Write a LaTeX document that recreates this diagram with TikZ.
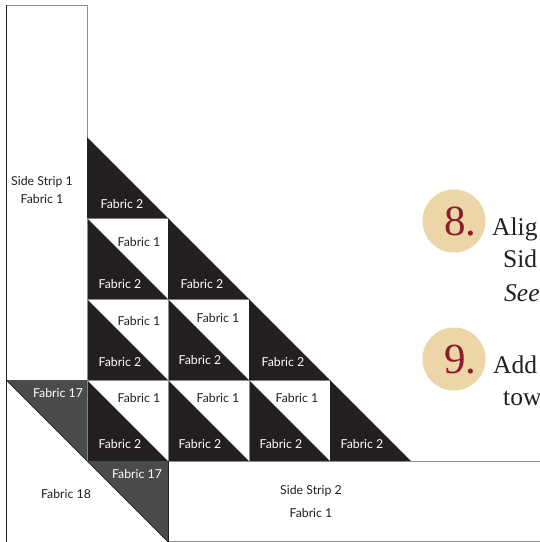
\documentclass[tikz,border=0pt]{standalone}
\usepackage{fontspec}
\newfontfamily\labelfont{Lato}
\newfontfamily\stepfont{Liberation Serif}
\definecolor{qblack}{RGB}{35,31,32}
\definecolor{qgray}{RGB}{74,75,77}
\definecolor{qline}{RGB}{140,140,140}
\definecolor{qbeige}{RGB}{236,214,168}
\definecolor{qred}{RGB}{140,28,40}
\tikzset{
  lbl/.style={font=\labelfont\fontsize{12.3}{14}\selectfont, inner sep=0pt, anchor=center},
  wl/.style={lbl, text=white},
  bl/.style={lbl, text=qblack},
  cellline/.style={draw=qline, line width=0.9pt},
  numcircle/.style={circle, fill=qbeige, minimum size=63pt, inner sep=0pt},
  numtext/.style={text=qred, font=\stepfont\fontsize{43}{43}\selectfont, inner sep=0pt, anchor=base west},
  steptext/.style={text=qblack, font=\stepfont\fontsize{25.5}{30}\selectfont, inner sep=0pt, anchor=base west}
}
\begin{document}
\begin{tikzpicture}[x=1pt,y=-1pt]
\useasboundingbox (0,0) rectangle (540,542);
\clip (0,0) rectangle (540,542);
\fill[white] (0,0) rectangle (540,542);

% Side strip 1
\draw[cellline] (6,5) rectangle (87,380);
\draw[qblack, line width=0.9pt] (6,5) -- (6,380);

% full half-square-triangle cells
\foreach \c/\r in {0/1,0/2,1/2,0/3,1/3,2/3} {
  \pgfmathsetmacro\x{87+81*\c}
  \pgfmathsetmacro\y{137+81*\r}
  \fill[qblack] (\x,\y) -- (\x,\y+81) -- (\x+81,\y+81) -- cycle;
  \draw[cellline] (\x,\y) rectangle (\x+81,\y+81);
}
% diagonal (edge) triangles
\foreach \c in {0,1,2,3} {
  \pgfmathsetmacro\x{87+81*\c}
  \pgfmathsetmacro\y{137+81*\c}
  \fill[qblack] (\x,\y) -- (\x,\y+81) -- (\x+81,\y+81) -- cycle;
}

% Side strip 2
\draw[cellline] (168,461) rectangle (600,541);

% corner block
\draw[qblack, line width=0.9pt] (6,380) -- (6,542);
\fill[qgray] (6,380) -- (87,380) -- (87,461) -- cycle;
\fill[qgray] (87,461) -- (168,461) -- (168,542) -- cycle;
\draw[qblack, line width=0.6pt] (6,380) -- (87,461);
\draw[qblack, line width=0.6pt] (87,461) -- (168,542);
\draw[qblack, line width=0.9pt] (168,461) -- (168,542);

% labels
\node[bl] (s1a) at (42,182) {Side Strip 1};
\node[bl] (s1b) at (42,199) {Fabric 1};

\node[wl] (r0c0) at (122,204) {Fabric 2};

\node[bl] (r1c0w) at (139,242) {Fabric 1};
\node[wl] (r1c0b) at (120,284) {Fabric 2};
\node[wl] (r1c1) at (202,284) {Fabric 2};

\node[bl] (r2c0w) at (139,321) {Fabric 1};
\node[wl] (r2c0b) at (120,362) {Fabric 2};
\node[bl] (r2c1w) at (218,318) {Fabric 1};
\node[wl] (r2c1b) at (200,360) {Fabric 2};
\node[wl] (r2c2) at (283,362) {Fabric 2};

\node[bl] (r3c0w) at (139,398) {Fabric 1};
\node[wl] (r3c0b) at (120,444) {Fabric 2};
\node[bl] (r3c1w) at (218,398) {Fabric 1};
\node[wl] (r3c1b) at (200,444) {Fabric 2};
\node[bl] (r3c2w) at (297,398) {Fabric 1};
\node[wl] (r3c2b) at (281,444) {Fabric 2};
\node[wl] (r3c3) at (362,444) {Fabric 2};

\node[wl] (f17a) at (58,393) {Fabric 17};
\node[wl] (f17b) at (137,474) {Fabric 17};
\node[bl] (f18) at (66,494) {Fabric 18};

\node[bl] (s2a) at (311,491) {Side Strip 2};
\node[bl] (s2b) at (311,513) {Fabric 1};

% step numbers and text
\node[numcircle] (c8) at (454,221) {};
\node[numtext] (n8) at (444,235) {8.};
\node[steptext] (t8a) at (492,235) {Alig};
\node[steptext] (t8b) at (503,267) {Sid};
\node[steptext, font=\stepfont\fontsize{25.5}{30}\selectfont\itshape] (t8c) at (504,301) {See};

\node[numcircle] (c9) at (454,359) {};
\node[numtext] (n9) at (444,373) {9.};
\node[steptext] (t9a) at (493,373) {Add};
\node[steptext] (t9b) at (503,405) {tow};
\end{tikzpicture}
\end{document}
